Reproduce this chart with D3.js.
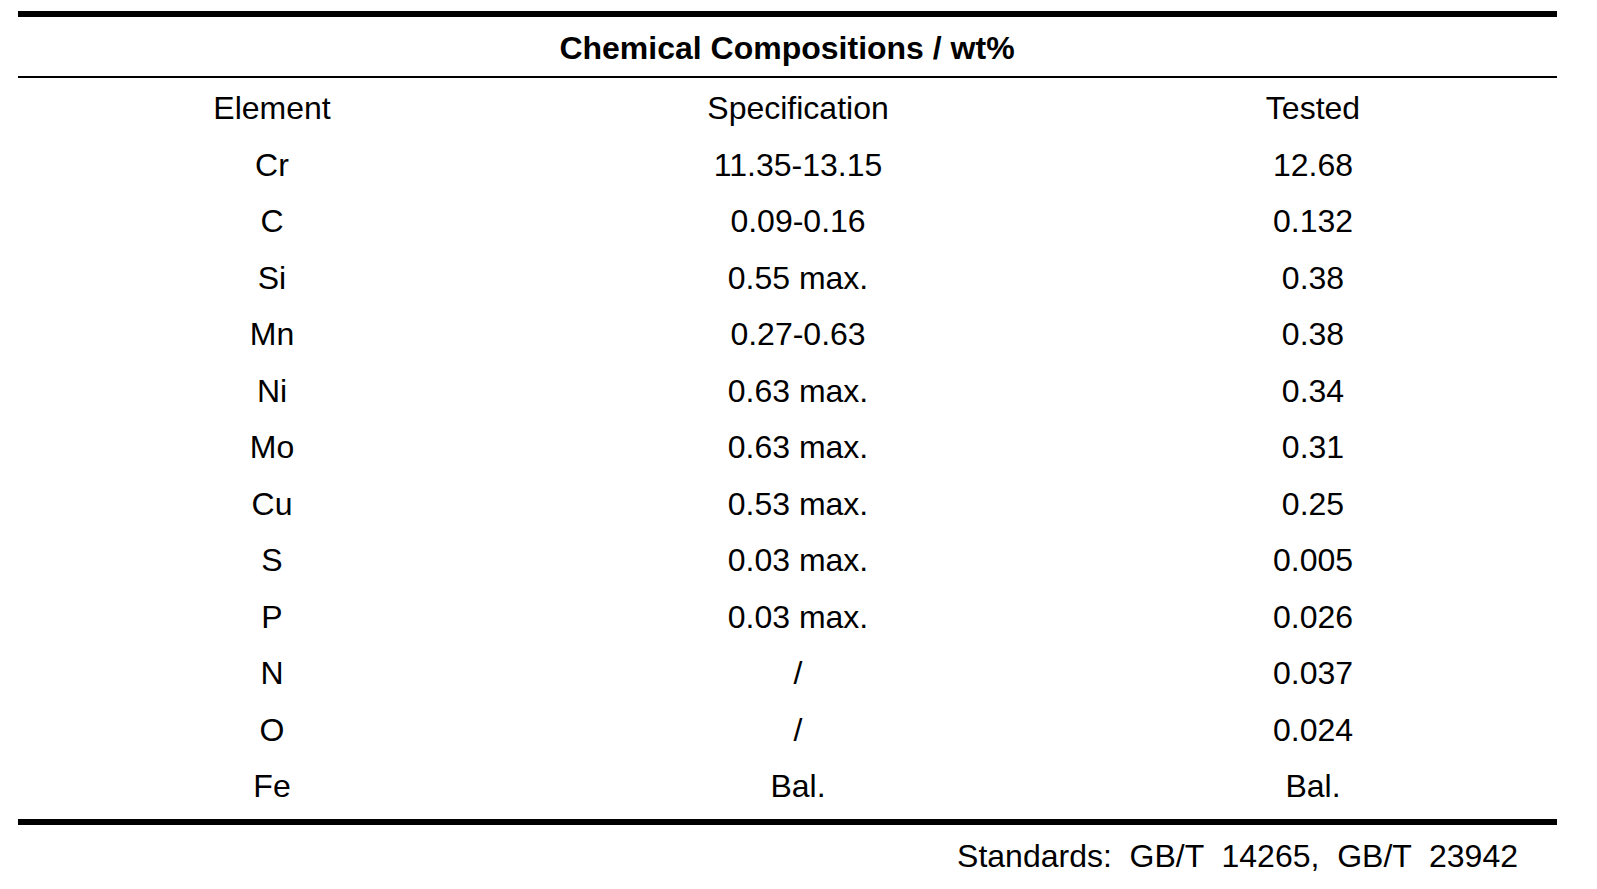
<!DOCTYPE html>
<html><head><meta charset="utf-8">
<script src="https://cdn.jsdelivr.net/npm/d3@7"></script>
<style>body{margin:0;background:#fff}</style>
</head><body><div id="chart"></div>
<script>
var title = "Chemical Compositions / wt%";
var columns = ["Element", "Specification", "Tested"];
var elements = ["Cr", "C", "Si", "Mn", "Ni", "Mo", "Cu", "S", "P", "N", "O", "Fe"];
var specs = ["11.35-13.15", "0.09-0.16", "0.55 max.", "0.27-0.63", "0.63 max.", "0.63 max.", "0.53 max.", "0.03 max.", "0.03 max.", "/", "/", "Bal."];
var tested = ["12.68", "0.132", "0.38", "0.38", "0.34", "0.31", "0.25", "0.005", "0.026", "0.037", "0.024", "Bal."];
var note = "Standards:  GB/T  14265,  GB/T  23942";

var w = 1597, h = 889;
var svg = d3.select("#chart").append("svg").attr("width", w).attr("height", h);
var font = "'Liberation Sans', Arial, sans-serif";

// middle column sits a bit off the even spacing
var colX = {Element: 272, Specification: 798, Tested: 1313};
var rowKeys = ["header"].concat(elements);
var y = d3.scalePoint().domain(rowKeys).range([108, 786]);

// rules
svg.append("rect").attr("x", 18).attr("y", 11).attr("width", 1539).attr("height", 6).attr("fill", "#000");
svg.append("rect").attr("x", 18).attr("y", 76).attr("width", 1539).attr("height", 2).attr("fill", "#000");
svg.append("rect").attr("x", 18).attr("y", 819).attr("width", 1539).attr("height", 6).attr("fill", "#000");

svg.append("text").attr("x", 787).attr("y", 48).attr("text-anchor", "middle")
    .attr("dominant-baseline", "central").style("font", "bold 32px " + font).text(title);

var rows = [{key: "header", vals: columns}].concat(elements.map(function (e, i) {
    return {key: e, vals: [e, specs[i], tested[i]]};
}));

var g = svg.selectAll("g.row").data(rows).enter().append("g")
    .attr("transform", function (d) { return "translate(0," + y(d.key) + ")"; });
g.selectAll("text").data(function (d) { return d.vals; }).enter().append("text")
    .attr("x", function (d, i) { return colX[columns[i]]; })
    .attr("text-anchor", "middle").attr("dominant-baseline", "central")
    .style("font", "32px " + font).text(function (d) { return d; });

svg.append("text").attr("x", 1518).attr("y", 856).attr("text-anchor", "end")
    .attr("dominant-baseline", "central").style("font", "32px " + font)
    .style("white-space", "pre").text(note);
</script></body></html>
